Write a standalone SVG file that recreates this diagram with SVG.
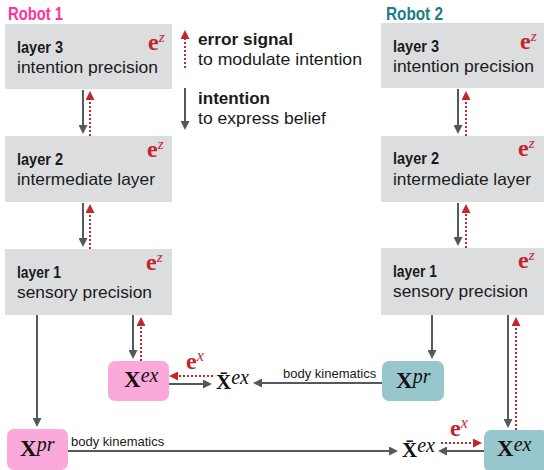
<svg xmlns="http://www.w3.org/2000/svg" width="544" height="470" viewBox="0 0 544 470">
<style>
.box{fill:#dcdddf}
.pink{fill:#fba9da}
.teal{fill:#98c6cd}
.sans{font-family:"Liberation Sans",Helvetica,Arial,sans-serif;fill:#1a1a1a}
.lb{font-size:17px;font-weight:bold}
.ld{font-size:16.5px}
.title{font-size:19px;font-weight:bold}
.small{font-size:13px}
.ser{font-family:"Liberation Serif","Times New Roman",serif}
.ez{font-size:24px;font-weight:bold;fill:#c1272d}
.sup{font-size:15px;font-style:italic;fill:#c1272d}
.X{font-size:23px;font-weight:bold;fill:#111}
.Xs{font-size:20px;font-style:italic;fill:#111}
.g{stroke:#535961;stroke-width:2;fill:none}
.r{stroke:#c1272d;stroke-width:2;stroke-dasharray:2 2;fill:none}
</style>
<defs>
<marker id="ag" viewBox="0 0 10 10" refX="2.2" refY="5" markerWidth="9" markerHeight="9" markerUnits="userSpaceOnUse" orient="auto"><path d="M0,0 L10,5 L0,10 Z" fill="#535961"/></marker>
<marker id="ar" viewBox="0 0 10 10" refX="2.2" refY="5" markerWidth="9" markerHeight="9" markerUnits="userSpaceOnUse" orient="auto"><path d="M0,0 L10,5 L0,10 Z" fill="#c1272d"/></marker>
</defs>

<text class="sans title" x="8" y="20" style="fill:#ff3399" textLength="55" lengthAdjust="spacingAndGlyphs">Robot 1</text>
<text class="sans title" x="386" y="20" style="fill:#1b7c86" textLength="57" lengthAdjust="spacingAndGlyphs">Robot 2</text>

<g id="r1-layer3">
<rect class="box" x="5" y="24" width="167" height="65"/>
<text class="sans lb" x="17" y="53" textLength="46" lengthAdjust="spacingAndGlyphs">layer 3</text>
<text class="sans ld" x="17" y="73" textLength="141" lengthAdjust="spacingAndGlyphs">intention precision</text>
<text class="ser" x="148" y="50"><tspan class="ez">e</tspan><tspan class="sup" dy="-8">z</tspan></text>
</g>
<g id="r1-layer2">
<rect class="box" x="5" y="136" width="167" height="66"/>
<text class="sans lb" x="17" y="165" textLength="46" lengthAdjust="spacingAndGlyphs">layer 2</text>
<text class="sans ld" x="17" y="185" textLength="138" lengthAdjust="spacingAndGlyphs">intermediate layer</text>
<text class="ser" x="147" y="157"><tspan class="ez">e</tspan><tspan class="sup" dy="-8">z</tspan></text>
</g>
<g id="r1-layer1">
<rect class="box" x="5" y="249" width="167" height="66"/>
<text class="sans lb" x="17" y="278" textLength="44" lengthAdjust="spacingAndGlyphs">layer 1</text>
<text class="sans ld" x="17" y="298" textLength="135" lengthAdjust="spacingAndGlyphs">sensory precision</text>
<text class="ser" x="146" y="270"><tspan class="ez">e</tspan><tspan class="sup" dy="-8">z</tspan></text>
</g>

<g id="r2-layer3">
<rect class="box" x="381" y="23" width="167" height="65"/>
<text class="sans lb" x="393" y="52" textLength="46" lengthAdjust="spacingAndGlyphs">layer 3</text>
<text class="sans ld" x="393" y="72" textLength="141" lengthAdjust="spacingAndGlyphs">intention precision</text>
<text class="ser" x="520" y="49"><tspan class="ez">e</tspan><tspan class="sup" dy="-8">z</tspan></text>
</g>
<g id="r2-layer2">
<rect class="box" x="381" y="136" width="167" height="66"/>
<text class="sans lb" x="393" y="164" textLength="46" lengthAdjust="spacingAndGlyphs">layer 2</text>
<text class="sans ld" x="393" y="185" textLength="138" lengthAdjust="spacingAndGlyphs">intermediate layer</text>
<text class="ser" x="518" y="156"><tspan class="ez">e</tspan><tspan class="sup" dy="-8">z</tspan></text>
</g>
<g id="r2-layer1">
<rect class="box" x="381" y="248" width="167" height="67"/>
<text class="sans lb" x="393" y="277" textLength="44" lengthAdjust="spacingAndGlyphs">layer 1</text>
<text class="sans ld" x="393" y="297" textLength="135" lengthAdjust="spacingAndGlyphs">sensory precision</text>
<text class="ser" x="518" y="268"><tspan class="ez">e</tspan><tspan class="sup" dy="-8">z</tspan></text>
</g>

<g id="legend">
<text class="sans lb" x="198" y="45" textLength="95" lengthAdjust="spacingAndGlyphs">error signal</text>
<text class="sans ld" x="198" y="65" textLength="164" lengthAdjust="spacingAndGlyphs">to modulate intention</text>
<text class="sans lb" x="198" y="104" textLength="72" lengthAdjust="spacingAndGlyphs">intention</text>
<text class="sans ld" x="198" y="124" textLength="128" lengthAdjust="spacingAndGlyphs">to express belief</text>
</g>

<g id="r1-xex">
<rect class="pink" x="108" y="361" width="61" height="40" rx="7"/>
<text class="ser" x="124" y="387"><tspan class="X">X</tspan><tspan class="Xs" dy="-5">ex</tspan></text>
</g>
<g id="r1-xpr">
<rect class="pink" x="7" y="429" width="61" height="41" rx="7"/>
<text class="ser" x="20" y="456"><tspan class="X">X</tspan><tspan class="Xs" dy="-5">pr</tspan></text>
</g>
<g id="r1-xbar">
<text class="ser" x="216" y="389"><tspan class="X" style="font-size:21px">X̄</tspan><tspan class="Xs" dy="-5">ex</tspan></text>
</g>
<g id="r2-xpr">
<rect class="teal" x="382" y="361" width="62" height="40" rx="7"/>
<text class="ser" x="396" y="388"><tspan class="X">X</tspan><tspan class="Xs" dy="-5">pr</tspan></text>
</g>
<g id="r2-xex">
<rect class="teal" x="484" y="430" width="64" height="42" rx="7"/>
<text class="ser" x="497" y="456"><tspan class="X">X</tspan><tspan class="Xs" dy="-5">ex</tspan></text>
</g>
<g id="r2-xbar">
<text class="ser" x="402" y="457"><tspan class="X" style="font-size:21px">X̄</tspan><tspan class="Xs" dy="-5">ex</tspan></text>
</g>

<g id="connectors">
<line class="r" x1="185" y1="68" x2="185" y2="37" marker-end="url(#ar)"/>
<line class="g" x1="185" y1="88" x2="185" y2="123" marker-end="url(#ag)"/>
<line class="g" x1="83" y1="90" x2="83" y2="127" marker-end="url(#ag)"/>
<line class="r" x1="90" y1="136" x2="90" y2="98" marker-end="url(#ar)"/>
<line class="g" x1="83" y1="203" x2="83" y2="240" marker-end="url(#ag)"/>
<line class="r" x1="90" y1="249" x2="90" y2="211" marker-end="url(#ar)"/>
<line class="g" x1="458" y1="89" x2="458" y2="127" marker-end="url(#ag)"/>
<line class="r" x1="466" y1="136" x2="466" y2="98" marker-end="url(#ar)"/>
<line class="g" x1="458" y1="203" x2="458" y2="239" marker-end="url(#ag)"/>
<line class="r" x1="466" y1="248" x2="466" y2="211" marker-end="url(#ar)"/>
<line class="g" x1="37" y1="315" x2="37" y2="420" marker-end="url(#ag)"/>
<line class="g" x1="133" y1="315" x2="133" y2="352" marker-end="url(#ag)"/>
<line class="r" x1="141" y1="361" x2="141" y2="324" marker-end="url(#ar)"/>
<line class="g" x1="169" y1="384" x2="205" y2="384" marker-end="url(#ag)"/>
<line class="r" x1="213" y1="376" x2="176" y2="376" marker-end="url(#ar)"/>
<text class="ser" x="186" y="369"><tspan class="ez">e</tspan><tspan class="sup" dy="-8" style="font-size:16px">x</tspan></text>
<line class="g" x1="382" y1="383" x2="260" y2="383" marker-end="url(#ag)"/>
<text class="sans small" x="283" y="378">body kinematics</text>
<line class="g" x1="432" y1="315" x2="432" y2="352" marker-end="url(#ag)"/>
<line class="g" x1="508" y1="315" x2="508" y2="421" marker-end="url(#ag)"/>
<line class="r" x1="516" y1="430" x2="516" y2="324" marker-end="url(#ar)"/>
<line class="g" x1="68" y1="451" x2="391" y2="451" marker-end="url(#ag)"/>
<text class="sans small" x="71" y="446">body kinematics</text>
<line class="g" x1="484" y1="451" x2="445" y2="451" marker-end="url(#ag)"/>
<line class="r" x1="441" y1="443" x2="475" y2="443" marker-end="url(#ar)"/>
<text class="ser" x="450" y="436"><tspan class="ez">e</tspan><tspan class="sup" dy="-8" style="font-size:16px">x</tspan></text>
</g>
</svg>
